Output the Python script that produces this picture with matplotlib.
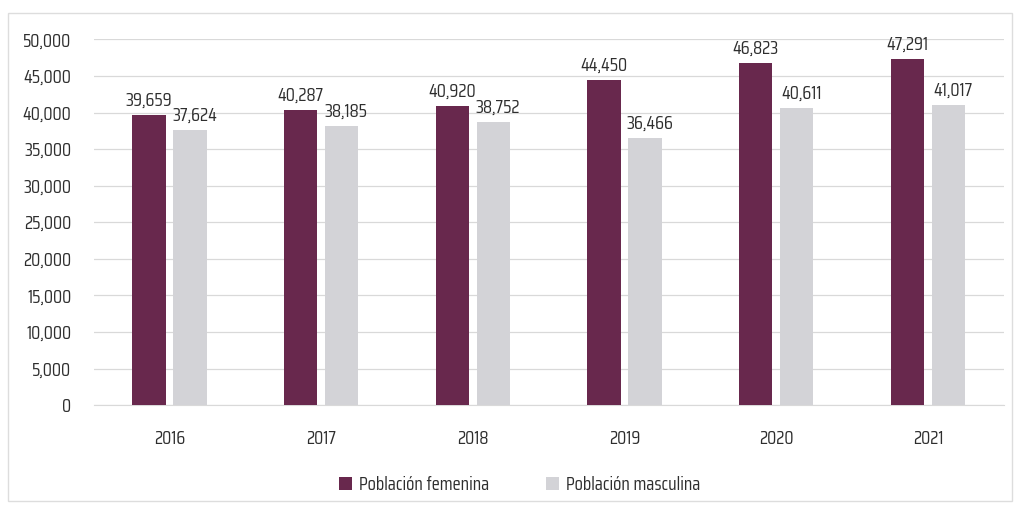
import matplotlib.pyplot as plt
from matplotlib.patches import Rectangle
import numpy as np

years = ['2016', '2017', '2018', '2019', '2020', '2021']
femenina = [39659, 40287, 40920, 44450, 46823, 47291]
masculina = [37624, 38185, 38752, 36466, 40611, 41017]

plt.rcParams['font.family'] = ['Saira Condensed', 'Barlow Semi Condensed', 'DejaVu Sans']

fig = plt.figure(figsize=(10.19, 5.11), dpi=100)
ax = fig.add_axes([0.092, 0.207, 0.893, 0.716])

x = np.arange(len(years))
w = 0.22
off = 0.135
b1 = ax.bar(x - off, femenina, w, color='#68284d', label='Población femenina', zorder=3)
b2 = ax.bar(x + off, masculina, w, color='#d3d3d7', label='Población masculina', zorder=3)

# etiquetas de valor
for rect, v in zip(b1, femenina):
    ax.text(rect.get_x() + rect.get_width() / 2, v + 700, f'{v:,}', ha='center', va='bottom',
            fontsize=13.5, color='#2e2e2e')
for rect, v in zip(b2, masculina):
    ax.text(rect.get_x() + rect.get_width() / 2 + 0.03, v + 700, f'{v:,}', ha='center', va='bottom',
            fontsize=13.5, color='#2e2e2e')

ax.set_xlim(-0.5, 5.5)
ax.set_ylim(0, 50000)
ax.set_yticks(np.arange(0, 50001, 5000))
ax.set_yticklabels([f'{t:,}' for t in range(0, 50001, 5000)])
ax.set_xticks(x)
ax.set_xticklabels(years)
ax.tick_params(axis='both', length=0, labelsize=13.5, colors='#2e2e2e')
ax.tick_params(axis='y', pad=16)
ax.tick_params(axis='x', pad=18)
ax.grid(axis='y', color='#d9d9d9', linewidth=0.9, zorder=0)
for s in ax.spines.values():
    s.set_visible(False)
ax.spines['bottom'].set_visible(True)
ax.spines['bottom'].set_color('#d9d9d9')

fig.legend(handles=[b1, b2], loc='center', bbox_to_anchor=(0.51, 0.05), ncol=2, frameon=False,
           fontsize=13.5, handlelength=0.7, handleheight=0.7, columnspacing=3.0, handletextpad=0.4,
           labelcolor='#2e2e2e')

fig.patches.append(Rectangle((0.008, 0.02), 0.985, 0.955, transform=fig.transFigure,
                             fill=False, edgecolor='#dddddd', linewidth=1))

fig.savefig('out.png', dpi=100)
